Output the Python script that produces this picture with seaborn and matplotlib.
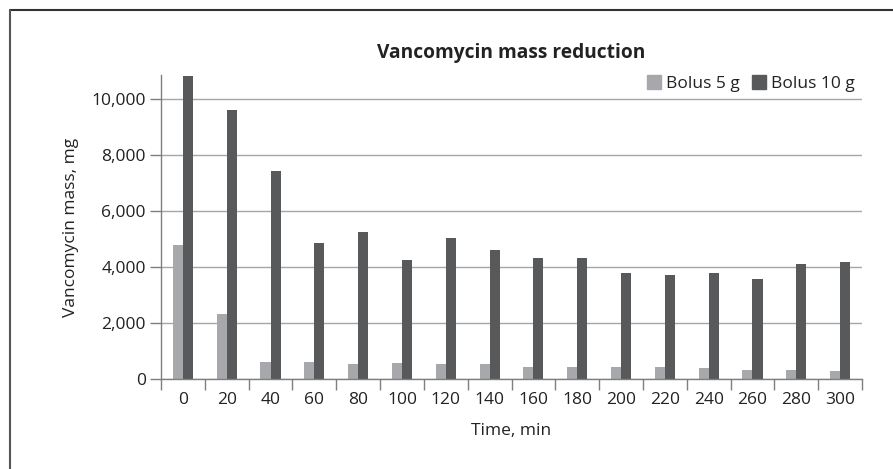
import matplotlib
matplotlib.use("Agg")
import matplotlib.pyplot as plt
from matplotlib.lines import Line2D
from matplotlib.ticker import FuncFormatter, FixedLocator
import seaborn as sns
import pandas as pd
import numpy as np

times = [0, 20, 40, 60, 80, 100, 120, 140, 160, 180, 200, 220, 240, 260, 280, 300]
bolus_5g = [4790, 2330, 620, 620, 545, 580, 545, 545, 440, 440, 440, 440, 400, 330, 330, 300]
bolus_10g = [10820, 9600, 7420, 4860, 5250, 4250, 5040, 4610, 4320, 4320, 3790, 3720, 3790, 3570, 4110, 4180]
series_names = ["Bolus 5 g", "Bolus 10 g"]
colors = ["#a7a8ab", "#58595b"]

df = pd.DataFrame({
    "Time": [str(t) for t in times] * 2,
    "Mass": bolus_5g + bolus_10g,
    "Series": [series_names[0]] * len(times) + [series_names[1]] * len(times),
})

sns.set_style("white")
plt.rcParams["font.family"] = ["Open Sans", "DejaVu Sans"]

fig = plt.figure(figsize=(8.93, 4.69), dpi=100)
ax = fig.add_axes([161 / 893, 1 - 379 / 469, (862 - 161) / 893, (379 - 75) / 469])

sns.barplot(data=df, x="Time", y="Mass", hue="Series", palette=colors,
            width=0.46, gap=0, ax=ax, legend=False, saturation=1, edgecolor="none")

ax.set_ylim(0, 10850)
ax.set_xlim(-0.5, len(times) - 0.5)
ax.set_yticks([0, 2000, 4000, 6000, 8000, 10000])
ax.yaxis.set_major_formatter(FuncFormatter(lambda v, p: f"{int(v):,}"))
ax.yaxis.grid(True, color="#a6a6a6", linewidth=1)
ax.set_axisbelow(True)

for s in ["top", "right"]:
    ax.spines[s].set_visible(False)
for s in ["left", "bottom"]:
    ax.spines[s].set_color("#7f7f7f")
    ax.spines[s].set_linewidth(1)

ax.tick_params(axis="y", which="major", direction="out", length=8, width=1,
               color="#7f7f7f", labelsize=12.5, labelcolor="#222222", pad=3, left=True)
ax.tick_params(axis="x", which="major", length=0, labelsize=12.5, labelcolor="#222222", pad=9)
ax.xaxis.set_minor_locator(FixedLocator(np.arange(-0.5, len(times), 1.0)))
ax.tick_params(axis="x", which="minor", direction="out", length=8, width=1,
               color="#7f7f7f", bottom=True)

ax.set_xlabel("Time, min", fontsize=12.5, color="#222222", labelpad=11)
ax.set_ylabel("Vancomycin mass, mg", fontsize=12.5, color="#222222", labelpad=9)
ax.set_title("Vancomycin mass reduction", fontsize=13.8, fontweight="bold",
             color="#222222", pad=12)

handles = [Line2D([], [], marker="s", linestyle="none", markersize=10,
                  markerfacecolor=c, markeredgecolor=c) for c in colors]
ax.legend(handles, series_names, loc="upper right", ncol=2, frameon=False,
          fontsize=12.5, handletextpad=0.2, columnspacing=0.6, borderaxespad=0.0,
          bbox_to_anchor=(1.0, 1.02), handlelength=1.0, labelcolor="#222222")

# outer frame (top and left edges visible)
fig.add_artist(Line2D([10 / 893, 1.0], [1 - 10 / 469, 1 - 10 / 469],
                      transform=fig.transFigure, color="#333333", linewidth=1.5))
fig.add_artist(Line2D([10 / 893, 10 / 893], [0, 1 - 10 / 469],
                      transform=fig.transFigure, color="#555555", linewidth=1.5))

fig.savefig("out.png", dpi=100)
